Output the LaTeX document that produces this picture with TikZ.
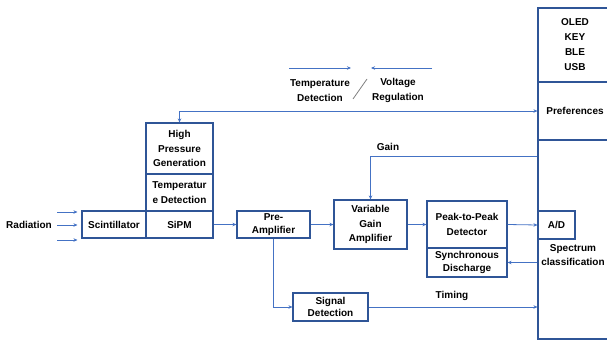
\documentclass[tikz,border=0pt]{standalone}
\usepackage{fontspec}
\setmainfont{Liberation Sans}
\usetikzlibrary{arrows.meta}
\definecolor{boxblue}{HTML}{2F5597}
\definecolor{lineblue}{HTML}{4472C4}
\newcommand{\lbl}{\fontsize{10}{14.5}\selectfont\bfseries}
\tikzset{
  blk/.style={draw=boxblue, line width=1.1pt, inner sep=1pt, align=center, font=\lbl},
  txt/.style={inner sep=1pt, align=center, font=\lbl},
  link/.style={draw=lineblue, line width=0.8pt, -{Stealth[length=4pt,width=3.5pt]}},
}
\begin{document}
\begin{tikzpicture}[x=1pt, y=-1pt]
    \useasboundingbox (0,0) rectangle (607,340);

    % Panneau de droite
    \node[blk, minimum width=74, minimum height=74, font={\fontsize{10}{15}\selectfont\bfseries}] (oled) at (575,45) {OLED\\KEY\\BLE\\USB};
    \node[blk, minimum width=74, minimum height=58] (pref) at (575,111) {Preferences};
    \node[blk, minimum width=74, minimum height=199] (main) at (575,239.5) {};
    \node[blk, minimum width=37, minimum height=28] (ad) at (556.5,225) {A/D};
    \node[txt] (spec) at (573,255) {Spectrum\\classification};

    % Blocs du capteur
    \node[blk, minimum width=67, minimum height=51] (hpg) at (179.5,148.5) {High\\Pressure\\Generation};
    \node[blk, minimum width=67, minimum height=37] (tdet) at (179.5,192.5) {Temperatur\\e Detection};
    \node[blk, minimum width=67, minimum height=27] (sipm) at (179.5,224.5) {SiPM};
    \node[blk, minimum width=64, minimum height=27] (scint) at (114,224.5) {Scintillator};
    \node[txt] (rad) at (29,225) {Radiation};

    % Chaine de traitement
    \node[blk, minimum width=73, minimum height=27] (pre) at (273.5,224.5) {Pre-\\[-1pt]Amplifier};
    \node[blk, minimum width=73, minimum height=49] (vga) at (370.5,224.5) {Variable\\Gain\\Amplifier};
    \node[blk, minimum width=80, minimum height=47] (peak) at (467,224.5) {Peak-to-Peak\\Detector};
    \node[blk, minimum width=80, minimum height=29] (sync) at (467,262.5) {Synchronous\\[-2pt]Discharge};
    \node[blk, minimum width=75, minimum height=28] (sig) at (330.5,307) {Signal\\[-2pt]Detection};

    % Etiquettes
    \node[txt] (gain) at (388,147) {Gain};
    \node[txt] (timing) at (452,296) {Timing};
    \node[txt] (tempv) at (320,90.5) {Temperature\\Detection};
    \node[txt] (volt) at (398,90.5) {Voltage\\Regulation};
    \draw[gray, line width=0.8pt] (353,99) -- (367,79);
    \draw[link] (289,68) -- (351,68);
    \draw[link] (432,68) -- (371,68);

    % Rayonnement incident
    \foreach \dy in {-15.5,-0.5,12.5}
        \draw[link] ([xshift=-24pt, yshift=\dy]scint.west) -- ++(20pt,0);

    % Liaisons
    \draw[link, {Stealth[length=4pt,width=3.5pt]}-{Stealth[length=4pt,width=3.5pt]}] (hpg.north) |- (pref.west);
    \draw[link] (sipm.east) -- (pre.west);
    \draw[link] (pre.east) -- (vga.west);
    \draw[link] (vga.east) -- (peak.west);
    \draw[link] (peak.east) -- (ad.west);
    \draw[link] (main.west |- sync.east) -- (sync.east);
    \draw[link] (main.west |- 0,156) -| (vga.north);
    \draw[link] (pre.south) |- (sig.west);
    \draw[link] (sig.east) -- (main.west |- sig.east);
\end{tikzpicture}
\end{document}
